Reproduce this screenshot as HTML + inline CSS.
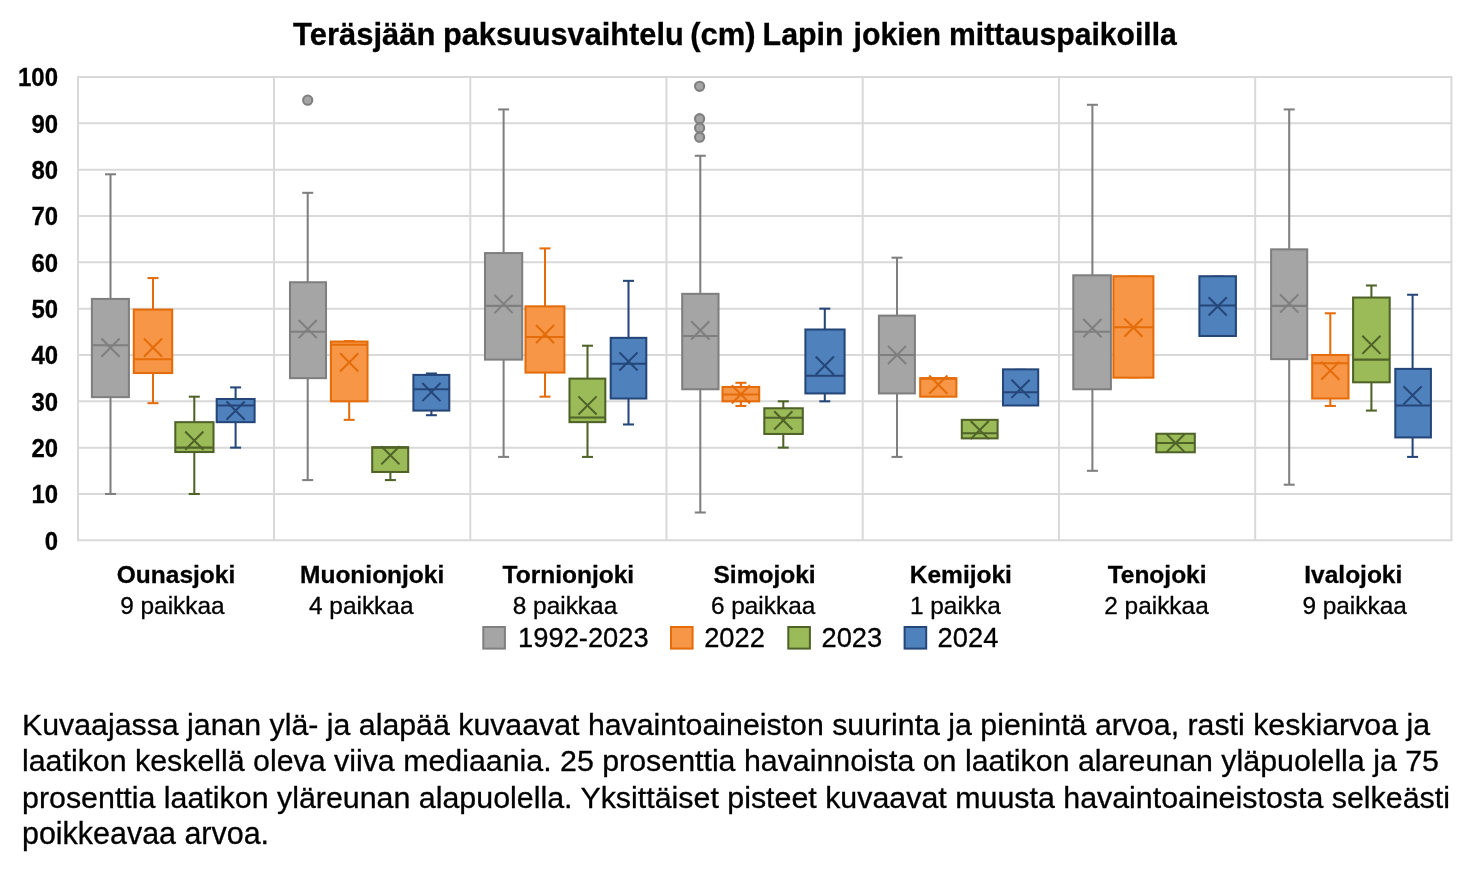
<!DOCTYPE html>
<html><head><meta charset="utf-8"><title>Teräsjään paksuusvaihtelu</title>
<style>
html,body{margin:0;padding:0;background:#fff;}
body{width:1477px;height:870px;overflow:hidden;}
svg{display:block;font-family:"Liberation Sans",sans-serif;will-change:transform;}
</style></head><body>
<svg width="1477" height="870" viewBox="0 0 1477 870">
<rect width="1477" height="870" fill="#fff"/>
<line x1="77" y1="540.3" x2="1452.4" y2="540.3" stroke="#d9d9d9" stroke-width="2"/>
<line x1="77" y1="493.97" x2="1452.4" y2="493.97" stroke="#d9d9d9" stroke-width="2"/>
<line x1="77" y1="447.64" x2="1452.4" y2="447.64" stroke="#d9d9d9" stroke-width="2"/>
<line x1="77" y1="401.31" x2="1452.4" y2="401.31" stroke="#d9d9d9" stroke-width="2"/>
<line x1="77" y1="354.98" x2="1452.4" y2="354.98" stroke="#d9d9d9" stroke-width="2"/>
<line x1="77" y1="308.65" x2="1452.4" y2="308.65" stroke="#d9d9d9" stroke-width="2"/>
<line x1="77" y1="262.32" x2="1452.4" y2="262.32" stroke="#d9d9d9" stroke-width="2"/>
<line x1="77" y1="215.99" x2="1452.4" y2="215.99" stroke="#d9d9d9" stroke-width="2"/>
<line x1="77" y1="169.66" x2="1452.4" y2="169.66" stroke="#d9d9d9" stroke-width="2"/>
<line x1="77" y1="123.33" x2="1452.4" y2="123.33" stroke="#d9d9d9" stroke-width="2"/>
<line x1="77" y1="77" x2="1452.4" y2="77" stroke="#d9d9d9" stroke-width="2"/>
<line x1="78" y1="77" x2="78" y2="540.3" stroke="#d9d9d9" stroke-width="2"/>
<line x1="274" y1="77" x2="274" y2="540.3" stroke="#d9d9d9" stroke-width="2"/>
<line x1="470.3" y1="77" x2="470.3" y2="540.3" stroke="#d9d9d9" stroke-width="2"/>
<line x1="666.5" y1="77" x2="666.5" y2="540.3" stroke="#d9d9d9" stroke-width="2"/>
<line x1="862.7" y1="77" x2="862.7" y2="540.3" stroke="#d9d9d9" stroke-width="2"/>
<line x1="1059" y1="77" x2="1059" y2="540.3" stroke="#d9d9d9" stroke-width="2"/>
<line x1="1255.2" y1="77" x2="1255.2" y2="540.3" stroke="#d9d9d9" stroke-width="2"/>
<line x1="1451.4" y1="77" x2="1451.4" y2="540.3" stroke="#d9d9d9" stroke-width="2"/>
<g stroke="#7f7f7f" stroke-width="2.05"><line x1="110.5" y1="174.29" x2="110.5" y2="299.38"/><line x1="110.5" y1="396.68" x2="110.5" y2="493.97"/><line x1="105" y1="174.29" x2="116" y2="174.29"/><line x1="105" y1="493.97" x2="116" y2="493.97"/><rect x="91.9" y="298.93" width="37" height="98.19" fill="#a5a5a5"/><line x1="91.9" y1="345.25" x2="128.9" y2="345.25"/><path d="M101.4 338.47L119.6 356.67M101.4 356.67L119.6 338.47" fill="none"/></g>
<g stroke="#e46c0a" stroke-width="2.05"><line x1="153" y1="278.07" x2="153" y2="310.04"/><line x1="153" y1="372.59" x2="153" y2="403.16"/><line x1="147.5" y1="278.07" x2="158.5" y2="278.07"/><line x1="147.5" y1="403.16" x2="158.5" y2="403.16"/><rect x="133.8" y="309.59" width="38.4" height="63.45" fill="#f79646"/><line x1="133.8" y1="359.15" x2="172.2" y2="359.15"/><path d="M143.9 338.47L162.1 356.67M143.9 356.67L162.1 338.47" fill="none"/></g>
<g stroke="#4f6228" stroke-width="2.05"><line x1="194.3" y1="396.68" x2="194.3" y2="422.62"/><line x1="194.3" y1="451.58" x2="194.3" y2="493.97"/><line x1="188.8" y1="396.68" x2="199.8" y2="396.68"/><line x1="188.8" y1="493.97" x2="199.8" y2="493.97"/><rect x="175.3" y="422.17" width="38.2" height="29.86" fill="#9bbb59"/><line x1="175.3" y1="447.64" x2="213.5" y2="447.64"/><path d="M185.2 431.59L203.4 449.79M185.2 449.79L203.4 431.59" fill="none"/></g>
<g stroke="#254678" stroke-width="2.05"><line x1="235.6" y1="387.41" x2="235.6" y2="399.46"/><line x1="235.6" y1="421.7" x2="235.6" y2="447.64"/><line x1="230.1" y1="387.41" x2="241.1" y2="387.41"/><line x1="230.1" y1="447.64" x2="241.1" y2="447.64"/><rect x="216.7" y="399.01" width="37.9" height="23.14" fill="#4f81bd"/><line x1="216.7" y1="405.48" x2="254.6" y2="405.48"/><path d="M226.5 401.48L244.7 419.68M226.5 419.68L244.7 401.48" fill="none"/></g>
<g stroke="#7f7f7f" stroke-width="2.05"><line x1="307.7" y1="192.82" x2="307.7" y2="282.71"/><line x1="307.7" y1="377.68" x2="307.7" y2="480.07"/><line x1="302.2" y1="192.82" x2="313.2" y2="192.82"/><line x1="302.2" y1="480.07" x2="313.2" y2="480.07"/><rect x="290" y="282.26" width="36" height="95.88" fill="#a5a5a5"/><line x1="290" y1="331.81" x2="326" y2="331.81"/><path d="M298.6 319.94L316.8 338.14M298.6 338.14L316.8 319.94" fill="none"/><circle cx="307.7" cy="100.16" r="4.6" fill="#a5a5a5"/></g>
<g stroke="#e46c0a" stroke-width="2.05"><line x1="349.2" y1="341.08" x2="349.2" y2="342.01"/><line x1="349.2" y1="400.85" x2="349.2" y2="419.84"/><line x1="343.7" y1="341.08" x2="354.7" y2="341.08"/><line x1="343.7" y1="419.84" x2="354.7" y2="419.84"/><rect x="330.9" y="341.56" width="36.6" height="59.74" fill="#f79646"/><line x1="330.9" y1="344.79" x2="367.5" y2="344.79"/><path d="M340.1 353.29L358.3 371.49M340.1 371.49L358.3 353.29" fill="none"/></g>
<g stroke="#4f6228" stroke-width="2.05"><line x1="390.4" y1="471.5" x2="390.4" y2="480.07"/><line x1="384.9" y1="447.64" x2="395.9" y2="447.64"/><line x1="384.9" y1="480.07" x2="395.9" y2="480.07"/><rect x="372.2" y="447.19" width="36" height="24.76" fill="#9bbb59"/><line x1="372.2" y1="447.64" x2="408.2" y2="447.64"/><path d="M381.3 446.18L399.5 464.38M381.3 464.38L399.5 446.18" fill="none"/></g>
<g stroke="#254678" stroke-width="2.05"><line x1="431.4" y1="373.51" x2="431.4" y2="375.37"/><line x1="431.4" y1="410.11" x2="431.4" y2="415.21"/><line x1="425.9" y1="373.51" x2="436.9" y2="373.51"/><line x1="425.9" y1="415.21" x2="436.9" y2="415.21"/><rect x="413.4" y="374.92" width="35.9" height="35.65" fill="#4f81bd"/><line x1="413.4" y1="389.26" x2="449.3" y2="389.26"/><path d="M422.3 382.94L440.5 401.14M422.3 401.14L440.5 382.94" fill="none"/></g>
<g stroke="#7f7f7f" stroke-width="2.05"><line x1="503.6" y1="109.43" x2="503.6" y2="253.52"/><line x1="503.6" y1="359.15" x2="503.6" y2="456.91"/><line x1="498.1" y1="109.43" x2="509.1" y2="109.43"/><line x1="498.1" y1="456.91" x2="509.1" y2="456.91"/><rect x="485" y="253.07" width="37.2" height="106.53" fill="#a5a5a5"/><line x1="485" y1="305.87" x2="522.2" y2="305.87"/><path d="M494.5 294.92L512.7 313.12M494.5 313.12L512.7 294.92" fill="none"/></g>
<g stroke="#e46c0a" stroke-width="2.05"><line x1="545" y1="248.42" x2="545" y2="306.8"/><line x1="545" y1="372.12" x2="545" y2="396.68"/><line x1="539.5" y1="248.42" x2="550.5" y2="248.42"/><line x1="539.5" y1="396.68" x2="550.5" y2="396.68"/><rect x="525.5" y="306.35" width="38.9" height="66.23" fill="#f79646"/><line x1="525.5" y1="336.91" x2="564.4" y2="336.91"/><path d="M535.9 325.03L554.1 343.23M535.9 343.23L554.1 325.03" fill="none"/></g>
<g stroke="#4f6228" stroke-width="2.05"><line x1="587.5" y1="345.71" x2="587.5" y2="379.07"/><line x1="587.5" y1="421.7" x2="587.5" y2="456.91"/><line x1="582" y1="345.71" x2="593" y2="345.71"/><line x1="582" y1="456.91" x2="593" y2="456.91"/><rect x="569.5" y="378.62" width="35.8" height="43.52" fill="#9bbb59"/><line x1="569.5" y1="417.53" x2="605.3" y2="417.53"/><path d="M578.4 396.38L596.6 414.58M578.4 414.58L596.6 396.38" fill="none"/></g>
<g stroke="#254678" stroke-width="2.05"><line x1="628.5" y1="280.85" x2="628.5" y2="338.3"/><line x1="628.5" y1="398.07" x2="628.5" y2="424.47"/><line x1="623" y1="280.85" x2="634" y2="280.85"/><line x1="623" y1="424.47" x2="634" y2="424.47"/><rect x="610.7" y="337.85" width="35.6" height="60.67" fill="#4f81bd"/><line x1="610.7" y1="363.78" x2="646.3" y2="363.78"/><path d="M619.4 352.37L637.6 370.57M619.4 370.57L637.6 352.37" fill="none"/></g>
<g stroke="#7f7f7f" stroke-width="2.05"><line x1="700.3" y1="155.76" x2="700.3" y2="294.29"/><line x1="700.3" y1="388.8" x2="700.3" y2="512.5"/><line x1="694.8" y1="155.76" x2="705.8" y2="155.76"/><line x1="694.8" y1="512.5" x2="705.8" y2="512.5"/><rect x="682.2" y="293.84" width="36.3" height="95.41" fill="#a5a5a5"/><line x1="682.2" y1="335.98" x2="718.5" y2="335.98"/><path d="M691.2 321.33L709.4 339.53M691.2 339.53L709.4 321.33" fill="none"/><circle cx="699.6" cy="86.27" r="4.6" fill="#a5a5a5"/><circle cx="699.6" cy="118.7" r="4.6" fill="#a5a5a5"/><circle cx="699.6" cy="127.96" r="4.6" fill="#a5a5a5"/><circle cx="699.6" cy="137.23" r="4.6" fill="#a5a5a5"/></g>
<g stroke="#e46c0a" stroke-width="2.05"><line x1="740.9" y1="382.78" x2="740.9" y2="387.41"/><line x1="740.9" y1="400.85" x2="740.9" y2="405.94"/><line x1="735.4" y1="382.78" x2="746.4" y2="382.78"/><line x1="735.4" y1="405.94" x2="746.4" y2="405.94"/><rect x="722.5" y="386.96" width="36.7" height="14.34" fill="#f79646"/><line x1="722.5" y1="394.59" x2="759.2" y2="394.59"/><path d="M731.8 385.26L750 403.46M731.8 403.46L750 385.26" fill="none"/></g>
<g stroke="#4f6228" stroke-width="2.05"><line x1="783.3" y1="401.31" x2="783.3" y2="408.72"/><line x1="783.3" y1="433.51" x2="783.3" y2="447.64"/><line x1="777.8" y1="401.31" x2="788.8" y2="401.31"/><line x1="777.8" y1="447.64" x2="788.8" y2="447.64"/><rect x="764.3" y="408.27" width="38.5" height="25.69" fill="#9bbb59"/><line x1="764.3" y1="417.76" x2="802.8" y2="417.76"/><path d="M774.2 411.21L792.4 429.41M774.2 429.41L792.4 411.21" fill="none"/></g>
<g stroke="#254678" stroke-width="2.05"><line x1="824.8" y1="308.65" x2="824.8" y2="329.96"/><line x1="824.8" y1="392.97" x2="824.8" y2="401.31"/><line x1="819.3" y1="308.65" x2="830.3" y2="308.65"/><line x1="819.3" y1="401.31" x2="830.3" y2="401.31"/><rect x="805.4" y="329.51" width="39.2" height="63.91" fill="#4f81bd"/><line x1="805.4" y1="375.83" x2="844.6" y2="375.83"/><path d="M815.7 356.54L833.9 374.74M815.7 374.74L833.9 356.54" fill="none"/></g>
<g stroke="#7f7f7f" stroke-width="2.05"><line x1="897" y1="257.69" x2="897" y2="316.06"/><line x1="897" y1="392.97" x2="897" y2="456.91"/><line x1="891.5" y1="257.69" x2="902.5" y2="257.69"/><line x1="891.5" y1="456.91" x2="902.5" y2="456.91"/><rect x="878.9" y="315.61" width="36" height="77.81" fill="#a5a5a5"/><line x1="878.9" y1="354.98" x2="914.9" y2="354.98"/><path d="M887.9 345.88L906.1 364.08M887.9 364.08L906.1 345.88" fill="none"/></g>
<g stroke="#e46c0a" stroke-width="2.05"><line x1="932.8" y1="378.61" x2="943.8" y2="378.61"/><line x1="932.8" y1="396.21" x2="943.8" y2="396.21"/><rect x="920.2" y="378.16" width="36.2" height="18.51" fill="#f79646"/><line x1="920.2" y1="378.61" x2="956.4" y2="378.61"/><path d="M929.2 375.53L947.4 393.73M929.2 393.73L947.4 375.53" fill="none"/></g>
<g stroke="#4f6228" stroke-width="2.05"><line x1="974.2" y1="420.31" x2="985.2" y2="420.31"/><line x1="974.2" y1="437.91" x2="985.2" y2="437.91"/><rect x="961.8" y="419.86" width="35.8" height="18.51" fill="#9bbb59"/><line x1="961.8" y1="433.28" x2="997.6" y2="433.28"/><path d="M970.6 420.93L988.8 439.13M970.6 439.13L988.8 420.93" fill="none"/></g>
<g stroke="#254678" stroke-width="2.05"><line x1="1015.1" y1="369.81" x2="1026.1" y2="369.81"/><line x1="1015.1" y1="405.02" x2="1026.1" y2="405.02"/><rect x="1003" y="369.36" width="35.2" height="36.11" fill="#4f81bd"/><line x1="1003" y1="392.28" x2="1038.2" y2="392.28"/><path d="M1011.5 379.7L1029.7 397.9M1011.5 397.9L1029.7 379.7" fill="none"/></g>
<g stroke="#7f7f7f" stroke-width="2.05"><line x1="1092.4" y1="104.8" x2="1092.4" y2="275.76"/><line x1="1092.4" y1="388.8" x2="1092.4" y2="470.8"/><line x1="1086.9" y1="104.8" x2="1097.9" y2="104.8"/><line x1="1086.9" y1="470.8" x2="1097.9" y2="470.8"/><rect x="1073.3" y="275.31" width="37.6" height="113.95" fill="#a5a5a5"/><line x1="1073.3" y1="331.81" x2="1110.9" y2="331.81"/><path d="M1083.3 319.01L1101.5 337.21M1083.3 337.21L1101.5 319.01" fill="none"/></g>
<g stroke="#e46c0a" stroke-width="2.05"><line x1="1127.9" y1="276.68" x2="1138.9" y2="276.68"/><line x1="1127.9" y1="377.22" x2="1138.9" y2="377.22"/><rect x="1113.4" y="276.23" width="40" height="101.44" fill="#f79646"/><line x1="1113.4" y1="327.18" x2="1153.4" y2="327.18"/><path d="M1124.3 318.55L1142.5 336.75M1124.3 336.75L1142.5 318.55" fill="none"/></g>
<g stroke="#4f6228" stroke-width="2.05"><line x1="1170.1" y1="434.2" x2="1181.1" y2="434.2"/><line x1="1170.1" y1="451.81" x2="1181.1" y2="451.81"/><rect x="1156.3" y="433.75" width="38.5" height="18.51" fill="#9bbb59"/><line x1="1156.3" y1="443.01" x2="1194.8" y2="443.01"/><path d="M1166.5 433.91L1184.7 452.11M1166.5 452.11L1184.7 433.91" fill="none"/></g>
<g stroke="#254678" stroke-width="2.05"><line x1="1212.2" y1="276.68" x2="1223.2" y2="276.68"/><line x1="1212.2" y1="335.52" x2="1223.2" y2="335.52"/><rect x="1199.4" y="276.23" width="36.5" height="59.74" fill="#4f81bd"/><line x1="1199.4" y1="305.41" x2="1235.9" y2="305.41"/><path d="M1208.6 297.23L1226.8 315.43M1208.6 315.43L1226.8 297.23" fill="none"/></g>
<g stroke="#7f7f7f" stroke-width="2.05"><line x1="1289.2" y1="109.43" x2="1289.2" y2="249.81"/><line x1="1289.2" y1="358.69" x2="1289.2" y2="484.7"/><line x1="1283.7" y1="109.43" x2="1294.7" y2="109.43"/><line x1="1283.7" y1="484.7" x2="1294.7" y2="484.7"/><rect x="1271.1" y="249.36" width="36.1" height="109.78" fill="#a5a5a5"/><line x1="1271.1" y1="305.87" x2="1307.2" y2="305.87"/><path d="M1280.1 294.45L1298.3 312.65M1280.1 312.65L1298.3 294.45" fill="none"/></g>
<g stroke="#e46c0a" stroke-width="2.05"><line x1="1330.3" y1="313.28" x2="1330.3" y2="355.44"/><line x1="1330.3" y1="398.07" x2="1330.3" y2="405.94"/><line x1="1324.8" y1="313.28" x2="1335.8" y2="313.28"/><line x1="1324.8" y1="405.94" x2="1335.8" y2="405.94"/><rect x="1312.2" y="354.99" width="36.3" height="43.52" fill="#f79646"/><line x1="1312.2" y1="363.32" x2="1348.5" y2="363.32"/><path d="M1321.2 361.63L1339.4 379.83M1321.2 379.83L1339.4 361.63" fill="none"/></g>
<g stroke="#4f6228" stroke-width="2.05"><line x1="1371.4" y1="285.48" x2="1371.4" y2="297.99"/><line x1="1371.4" y1="381.85" x2="1371.4" y2="410.58"/><line x1="1365.9" y1="285.48" x2="1376.9" y2="285.48"/><line x1="1365.9" y1="410.58" x2="1376.9" y2="410.58"/><rect x="1353.1" y="297.54" width="36.6" height="84.76" fill="#9bbb59"/><line x1="1353.1" y1="359.61" x2="1389.7" y2="359.61"/><path d="M1362.3 335.69L1380.5 353.89M1362.3 353.89L1380.5 335.69" fill="none"/></g>
<g stroke="#254678" stroke-width="2.05"><line x1="1412.6" y1="294.75" x2="1412.6" y2="369.34"/><line x1="1412.6" y1="436.98" x2="1412.6" y2="456.91"/><line x1="1407.1" y1="294.75" x2="1418.1" y2="294.75"/><line x1="1407.1" y1="456.91" x2="1418.1" y2="456.91"/><rect x="1395.3" y="368.89" width="35.6" height="68.54" fill="#4f81bd"/><line x1="1395.3" y1="405.48" x2="1430.9" y2="405.48"/><path d="M1403.5 386.19L1421.7 404.39M1403.5 404.39L1421.7 386.19" fill="none"/></g>
<g fill="#000" stroke="#000" stroke-width="0.3">
<text x="293.1" y="45.2" font-weight="bold" font-size="30.5" textLength="142.3" lengthAdjust="spacingAndGlyphs">Teräsjään</text>
<text x="443" y="45.2" font-weight="bold" font-size="30.5" textLength="240.7" lengthAdjust="spacingAndGlyphs">paksuusvaihtelu</text>
<text x="690.2" y="45.2" font-weight="bold" font-size="30.5" textLength="65.4" lengthAdjust="spacingAndGlyphs">(cm)</text>
<text x="762.6" y="45.2" font-weight="bold" font-size="30.5" textLength="81" lengthAdjust="spacingAndGlyphs">Lapin</text>
<text x="853.6" y="45.2" font-weight="bold" font-size="30.5" textLength="87.5" lengthAdjust="spacingAndGlyphs">jokien</text>
<text x="949" y="45.2" font-weight="bold" font-size="30.5" textLength="227.9" lengthAdjust="spacingAndGlyphs">mittauspaikoilla</text>
<text x="58" y="549.7" text-anchor="end" font-weight="bold" font-size="25" textLength="13.3" lengthAdjust="spacingAndGlyphs">0</text>
<text x="58" y="503.37" text-anchor="end" font-weight="bold" font-size="25" textLength="26.6" lengthAdjust="spacingAndGlyphs">10</text>
<text x="58" y="457.04" text-anchor="end" font-weight="bold" font-size="25" textLength="26.6" lengthAdjust="spacingAndGlyphs">20</text>
<text x="58" y="410.71" text-anchor="end" font-weight="bold" font-size="25" textLength="26.6" lengthAdjust="spacingAndGlyphs">30</text>
<text x="58" y="364.38" text-anchor="end" font-weight="bold" font-size="25" textLength="26.6" lengthAdjust="spacingAndGlyphs">40</text>
<text x="58" y="318.05" text-anchor="end" font-weight="bold" font-size="25" textLength="26.6" lengthAdjust="spacingAndGlyphs">50</text>
<text x="58" y="271.72" text-anchor="end" font-weight="bold" font-size="25" textLength="26.6" lengthAdjust="spacingAndGlyphs">60</text>
<text x="58" y="225.39" text-anchor="end" font-weight="bold" font-size="25" textLength="26.6" lengthAdjust="spacingAndGlyphs">70</text>
<text x="58" y="179.06" text-anchor="end" font-weight="bold" font-size="25" textLength="26.6" lengthAdjust="spacingAndGlyphs">80</text>
<text x="58" y="132.73" text-anchor="end" font-weight="bold" font-size="25" textLength="26.6" lengthAdjust="spacingAndGlyphs">90</text>
<text x="58" y="86.4" text-anchor="end" font-weight="bold" font-size="25" textLength="40" lengthAdjust="spacingAndGlyphs">100</text>
<text x="176" y="583.2" text-anchor="middle" font-weight="bold" font-size="24.5">Ounasjoki</text>
<text x="172.4" y="613.6" text-anchor="middle" font-size="24.4">9 paikkaa</text>
<text x="372.15" y="583.2" text-anchor="middle" font-weight="bold" font-size="24.5">Muonionjoki</text>
<text x="361.25" y="613.6" text-anchor="middle" font-size="24.4">4 paikkaa</text>
<text x="568.4" y="583.2" text-anchor="middle" font-weight="bold" font-size="24.5">Tornionjoki</text>
<text x="565" y="613.6" text-anchor="middle" font-size="24.4">8 paikkaa</text>
<text x="764.6" y="583.2" text-anchor="middle" font-weight="bold" font-size="24.5">Simojoki</text>
<text x="763.1" y="613.6" text-anchor="middle" font-size="24.4">6 paikkaa</text>
<text x="960.85" y="583.2" text-anchor="middle" font-weight="bold" font-size="24.5">Kemijoki</text>
<text x="955.35" y="613.6" text-anchor="middle" font-size="24.4">1 paikka</text>
<text x="1157.1" y="583.2" text-anchor="middle" font-weight="bold" font-size="24.5">Tenojoki</text>
<text x="1156.5" y="613.6" text-anchor="middle" font-size="24.4">2 paikkaa</text>
<text x="1353.3" y="583.2" text-anchor="middle" font-weight="bold" font-size="24.5">Ivalojoki</text>
<text x="1354.6" y="613.6" text-anchor="middle" font-size="24.4">9 paikkaa</text>
<rect x="483.3" y="627" width="21.6" height="21.6" fill="#a5a5a5" stroke="#7f7f7f" stroke-width="2"/>
<text x="518.1" y="647.3" font-size="27.3">1992-2023</text>
<rect x="671" y="627" width="21.6" height="21.6" fill="#f79646" stroke="#e46c0a" stroke-width="2"/>
<text x="704.2" y="647.3" font-size="27.3">2022</text>
<rect x="788.3" y="627" width="21.6" height="21.6" fill="#9bbb59" stroke="#4f6228" stroke-width="2"/>
<text x="821.5" y="647.3" font-size="27.3">2023</text>
<rect x="904.6" y="627" width="21.6" height="21.6" fill="#4f81bd" stroke="#254678" stroke-width="2"/>
<text x="937.6" y="647.3" font-size="27.3">2024</text>
<text x="22" y="734.5" font-size="30.3">Kuvaajassa janan ylä- ja alapää kuvaavat havaintoaineiston suurinta ja pienintä arvoa, rasti keskiarvoa ja</text>
<text x="22" y="771.13" font-size="30.35">laatikon keskellä oleva viiva mediaania. 25 prosenttia havainnoista on laatikon alareunan yläpuolella ja 75</text>
<text x="22" y="807.76" font-size="30.38">prosenttia laatikon yläreunan alapuolella. Yksittäiset pisteet kuvaavat muusta havaintoaineistosta selkeästi</text>
<text x="22" y="844.39" font-size="30.45">poikkeavaa arvoa.</text>
</g>
</svg>
</body></html>
